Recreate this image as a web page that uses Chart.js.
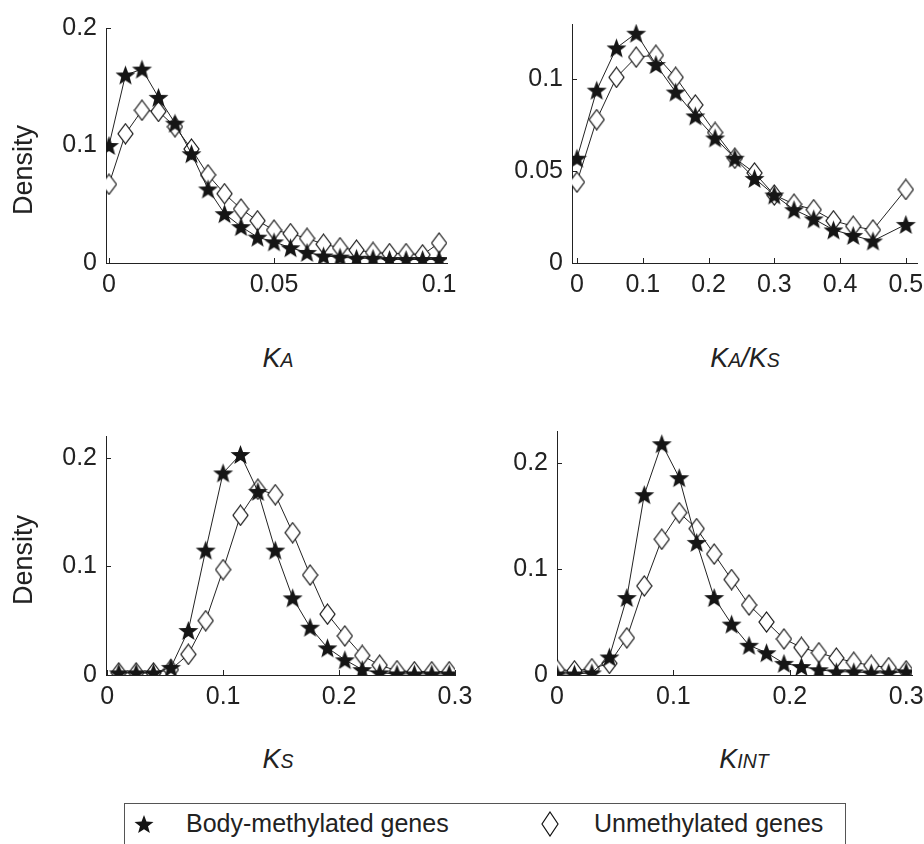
<!DOCTYPE html>
<html lang="en">
<head>
    <meta charset="UTF-8">
    <title>Density of KA, KA/KS, KS and KINT</title>
    <script src="https://cdn.jsdelivr.net/npm/chart.js"></script>
    <style>
        body { margin: 0; background: #fff; width: 924px; height: 844px; overflow: hidden; position: relative;
               font-family: "Liberation Sans", Arial, sans-serif; color: #222; }
        canvas.panel { position: absolute; }
        .lbl { position: absolute; line-height: 1; white-space: nowrap; transform: translate(-50%, -50%); }
        .ylab { font-size: 27px; transform: translate(-50%, -50%) rotate(-90deg); }
        .xlab { font-size: 27px; font-style: italic; }
        .xlab small { font-size: 0.72em; }
        .legend { position: absolute; left: 124px; top: 803px; width: 720px; height: 60px; border: 1px solid #555; }
        .legend canvas, .legend span { position: absolute; }
        .legend span { font-size: 25px; line-height: 1; top: 7px; }
    </style>
</head>
<body>

<canvas class="panel" id="kaChart" width="436" height="304" style="left:36px;top:4px"></canvas>
<canvas class="panel" id="ratioChart" width="440" height="308" style="left:502px;top:0px"></canvas>
<canvas class="panel" id="ksChart" width="444" height="308" style="left:36px;top:412px"></canvas>
<canvas class="panel" id="kintChart" width="450" height="313" style="left:487px;top:407px"></canvas>

<div class="lbl ylab" style="left:23px;top:170px">Density</div>
<div class="lbl ylab" style="left:23px;top:560px">Density</div>

<div class="lbl xlab" style="left:278px;top:358px">K<small>A</small></div>
<div class="lbl xlab" style="left:745px;top:358px">K<small>A</small>/K<small>S</small></div>
<div class="lbl xlab" style="left:278px;top:759px">K<small>S</small></div>
<div class="lbl xlab" style="left:744px;top:759px">K<small>INT</small></div>

<div class="legend">
    <canvas id="legStar" style="left:8px;top:9px"></canvas>
    <span style="left:61px">Body-methylated genes</span>
    <canvas id="legDiamond" style="left:416px;top:7px"></canvas>
    <span style="left:469px">Unmethylated genes</span>
</div>

<script>
    // ---- data ----
    // KA
    const kaX    = [0, 0.005, 0.01, 0.015, 0.02, 0.025, 0.03, 0.035, 0.04, 0.045, 0.05, 0.055, 0.06, 0.065, 0.07, 0.075, 0.08, 0.085, 0.09, 0.095, 0.1];
    const kaBody = [0.100, 0.160, 0.165, 0.141, 0.119, 0.093, 0.063, 0.042, 0.031, 0.022, 0.018, 0.013, 0.009, 0.006, 0.005, 0.004, 0.004, 0.003, 0.003, 0.003, 0.003];
    const kaUn   = [0.067, 0.110, 0.130, 0.129, 0.116, 0.097, 0.075, 0.059, 0.046, 0.036, 0.028, 0.025, 0.021, 0.016, 0.013, 0.011, 0.009, 0.008, 0.008, 0.007, 0.017];
    const kaXTicks = [0, 0.05, 0.1];
    const kaYTicks = [0, 0.1, 0.2];

    // KA/KS
    const ratioX    = [0, 0.03, 0.06, 0.09, 0.12, 0.15, 0.18, 0.21, 0.24, 0.27, 0.30, 0.33, 0.36, 0.39, 0.42, 0.45, 0.5];
    const ratioBody = [0.057, 0.094, 0.117, 0.125, 0.108, 0.093, 0.080, 0.068, 0.057, 0.046, 0.037, 0.029, 0.024, 0.018, 0.015, 0.012, 0.021];
    const ratioUn   = [0.044, 0.078, 0.101, 0.112, 0.113, 0.101, 0.086, 0.071, 0.057, 0.049, 0.037, 0.032, 0.029, 0.023, 0.020, 0.018, 0.040];
    const ratioXTicks = [0, 0.1, 0.2, 0.3, 0.4, 0.5];
    const ratioYTicks = [0, 0.05, 0.1];

    // KS
    const ksX    = [0.01, 0.025, 0.04, 0.055, 0.07, 0.085, 0.1, 0.115, 0.13, 0.145, 0.16, 0.175, 0.19, 0.205, 0.22, 0.235, 0.25, 0.265, 0.28, 0.295];
    const ksBody = [0.002, 0.002, 0.002, 0.007, 0.041, 0.115, 0.186, 0.203, 0.169, 0.115, 0.071, 0.044, 0.025, 0.014, 0.005, 0.002, 0.001, 0.001, 0.001, 0.001];
    const ksUn   = [0.002, 0.002, 0.002, 0.005, 0.019, 0.050, 0.097, 0.147, 0.171, 0.166, 0.131, 0.092, 0.056, 0.036, 0.018, 0.009, 0.004, 0.003, 0.003, 0.003];
    const ksXTicks = [0, 0.1, 0.2, 0.3];
    const ksYTicks = [0, 0.1, 0.2];

    // KINT
    const kintX    = [0, 0.015, 0.03, 0.045, 0.06, 0.075, 0.09, 0.105, 0.12, 0.135, 0.15, 0.165, 0.18, 0.195, 0.21, 0.225, 0.24, 0.255, 0.27, 0.285, 0.3];
    const kintBody = [0.001, 0.001, 0.002, 0.017, 0.073, 0.170, 0.218, 0.186, 0.125, 0.073, 0.048, 0.028, 0.021, 0.011, 0.008, 0.005, 0.003, 0.003, 0.002, 0.002, 0.003];
    const kintUn   = [0.005, 0.004, 0.006, 0.011, 0.035, 0.084, 0.128, 0.153, 0.138, 0.114, 0.090, 0.066, 0.050, 0.034, 0.026, 0.021, 0.016, 0.012, 0.009, 0.007, 0.004];
    const kintXTicks = [0, 0.1, 0.2, 0.3];
    const kintYTicks = [0, 0.1, 0.2];

    const INK = '#222';
    const FONT = '"Liberation Sans", Arial, sans-serif';

    // filled pentagram marker
    function makeStar(r, cnv) {
        const c = cnv || document.createElement('canvas');
        const s = Math.ceil(r * 2 + 2);
        c.width = s; c.height = s;
        const g = c.getContext('2d');
        g.beginPath();
        for (let i = 0; i < 10; i++) {
            const ang = -Math.PI / 2 + i * Math.PI / 5;
            const rr = i % 2 ? r * 0.42 : r;
            g.lineTo(s / 2 + rr * Math.cos(ang), s / 2 + 1 + rr * Math.sin(ang));
        }
        g.closePath();
        g.fillStyle = '#151515';
        g.fill();
        return c;
    }

    // open diamond marker, a bit taller than wide
    function makeDiamond(w, h, cnv) {
        const c = cnv || document.createElement('canvas');
        c.width = w + 2; c.height = h + 2;
        const g = c.getContext('2d');
        const cx = (w + 2) / 2, cy = (h + 2) / 2;
        g.beginPath();
        g.moveTo(cx, 1); g.lineTo(w + 1, cy); g.lineTo(cx, h + 1); g.lineTo(1, cy);
        g.closePath();
        g.fillStyle = '#fff';
        g.fill();
        g.strokeStyle = '#111';
        g.lineWidth = 1.2;
        g.stroke();
        return c;
    }

    const starImg = makeStar(10.5);
    const diamondImg = makeDiamond(15, 20);
    makeStar(10, document.getElementById('legStar'));
    makeDiamond(16, 24, document.getElementById('legDiamond'));

    // matlab-style ticks pointing into the plot
    const inwardTicks = {
        id: 'inwardTicks',
        beforeDatasetsDraw(chart) {
            const { ctx, chartArea: a, scales: { x, y } } = chart;
            ctx.save();
            ctx.strokeStyle = INK;
            ctx.lineWidth = 1;
            ctx.beginPath();
            x.ticks.forEach(t => {
                const px = Math.round(x.getPixelForValue(t.value)) + 0.5;
                ctx.moveTo(px, a.bottom); ctx.lineTo(px, a.bottom - 5);
            });
            y.ticks.forEach(t => {
                const py = Math.round(y.getPixelForValue(t.value)) + 0.5;
                ctx.moveTo(a.left, py); ctx.lineTo(a.left + 5, py);
            });
            ctx.stroke();
            ctx.restore();
        }
    };

    function points(xs, ys) {
        return xs.map((v, i) => ({ x: v, y: ys[i] }));
    }

    function densityChart(id, xs, body, un, xTicks, yTicks, xMin, xMax, yMax) {
        return new Chart(document.getElementById(id), {
            type: 'line',
            data: {
                datasets: [
                    { label: 'Body-methylated genes', data: points(xs, body), borderColor: INK, borderWidth: 1,
                      pointStyle: starImg, pointRadius: 9, tension: 0 },
                    { label: 'Unmethylated genes', data: points(xs, un), borderColor: INK, borderWidth: 1,
                      pointStyle: diamondImg, pointRadius: 9, tension: 0 }
                ]
            },
            options: {
                responsive: false,
                animation: false,
                layout: { padding: { left: 0, top: 20, right: 25, bottom: 0 } },
                plugins: { legend: { display: false }, tooltip: { enabled: false } },
                scales: {
                    x: {
                        type: 'linear', min: xMin, max: xMax,
                        grid: { display: false, drawTicks: false },
                        border: { display: true, color: INK, width: 1 },
                        ticks: { color: INK, padding: 7, font: { family: FONT, size: 25 }, maxRotation: 0,
                                 callback: v => String(v) },
                        afterBuildTicks: s => { s.ticks = xTicks.map(v => ({ value: v })); },
                        afterFit: s => { s.height = 45; }
                    },
                    y: {
                        type: 'linear', min: 0, max: yMax,
                        grid: { display: false, drawTicks: false },
                        border: { display: true, color: INK, width: 1 },
                        ticks: { color: INK, padding: 9, font: { family: FONT, size: 25 },
                                 callback: v => String(v) },
                        afterBuildTicks: s => { s.ticks = yTicks.map(v => ({ value: v })); },
                        afterFit: s => { s.width = 70; }
                    }
                }
            },
            plugins: [inwardTicks]
        });
    }

    densityChart('kaChart', kaX, kaBody, kaUn, kaXTicks, kaYTicks, -0.0009, 0.1024, 0.2);
    densityChart('ratioChart', ratioX, ratioBody, ratioUn, ratioXTicks, ratioYTicks, -0.0076, 0.517, 0.13);
    densityChart('ksChart', ksX, ksBody, ksUn, ksXTicks, ksYTicks, -0.001, 0.3, 0.22);
    densityChart('kintChart', kintX, kintBody, kintUn, kintXTicks, kintYTicks, 0, 0.305, 0.23);
</script>
</body>
</html>
